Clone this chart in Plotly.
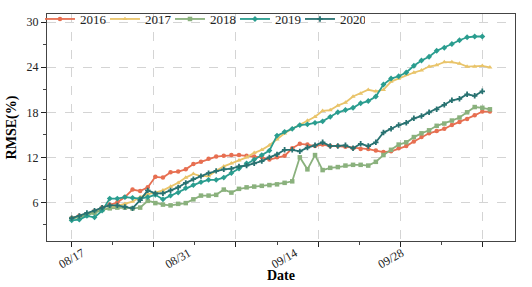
import plotly.graph_objects as go

# ---- data ----
label_days = [0, 14, 28, 42]
tick_labels = ['08/17', '08/31', '09/14', '09/28']

rmse_2016 = [3.9, 4.2, 4.4, 4.8, 5.3, 5.7, 6.0, 6.7, 7.7, 7.5,
             8.0, 9.4, 9.3, 10.0, 10.1, 10.4, 11.1, 11.4, 11.8, 12.1,
             12.2, 12.3, 12.3, 12.2, 12.1, 12.0, 11.7, 12.0, 12.2, 13.2,
             13.8, 13.7, 13.5, 13.7, 13.5, 13.5, 13.4, 13.2, 13.1, 13.1,
             12.9, 12.7, 12.8, 13.2, 13.5, 14.1, 14.7, 15.2, 15.5, 15.8,
             16.3, 16.7, 17.1, 17.6, 18.1, 18.1]
rmse_2017 = [3.9, 4.1, 4.4, 4.7, 5.0, 5.3, 5.5, 5.8, 6.1, 6.7,
             7.1, 7.3, 7.6, 8.1, 8.6, 9.3, 9.8, 9.5, 9.5, 10.2,
             10.8, 11.2, 11.6, 12.0, 12.6, 13.0, 13.6, 14.4, 15.2, 15.8,
             16.3, 16.9, 17.4, 18.2, 18.3, 18.9, 19.3, 20.1, 20.5, 21.0,
             20.8, 21.0, 22.1, 22.5, 23.0, 23.3, 23.6, 24.1, 24.3, 24.7,
             24.7, 24.5, 24.1, 24.1, 24.2, 24.0]
rmse_2018 = [3.8, 4.0, 4.3, 4.6, 5.0, 5.2, 5.3, 5.3, 5.2, 5.3,
             6.2, 5.9, 5.7, 5.6, 5.8, 5.9, 6.4, 6.9, 6.9, 7.0,
             7.7, 7.3, 7.8, 8.0, 8.1, 8.2, 8.3, 8.4, 8.6, 8.8,
             12.0, 10.4, 12.3, 10.3, 10.6, 10.7, 10.9, 11.0, 11.0, 10.9,
             11.4, 12.3, 13.0, 13.7, 14.0, 14.7, 15.2, 15.6, 16.2, 16.5,
             16.9, 17.3, 18.0, 18.7, 18.6, 18.4]
rmse_2019 = [3.6, 3.7, 4.2, 4.0, 4.9, 6.5, 6.5, 6.7, 6.6, 6.5,
             6.7, 7.0, 6.4, 6.9, 7.3, 7.9, 8.3, 8.7, 9.0, 9.0,
             9.3, 9.9, 10.5, 11.2, 11.7, 12.3, 12.9, 14.9, 15.4, 15.8,
             16.3, 16.4, 16.6, 16.8, 17.4, 18.0, 18.3, 18.6, 19.2, 19.5,
             20.1, 21.7, 22.5, 22.8, 23.3, 24.2, 24.9, 25.4, 26.2, 26.6,
             27.1, 27.6, 28.0, 28.1, 28.1]
rmse_2020 = [3.9, 4.2, 4.6, 4.9, 5.3, 5.6, 5.6, 5.4, 5.2, 6.3,
             7.6, 7.2, 7.2, 7.6, 8.0, 8.6, 9.1, 9.5, 9.9, 10.2,
             10.4, 10.5, 10.8, 10.9, 11.2, 11.5, 12.0, 12.4, 13.0, 13.0,
             12.8, 13.3, 13.6, 14.0, 13.5, 13.5, 13.6, 13.2, 13.8, 13.5,
             14.0, 15.3, 15.8, 16.3, 16.6, 17.2, 17.5, 18.0, 18.4, 19.0,
             19.6, 19.8, 20.4, 20.2, 20.8]

series_names = ['2016', '2017', '2018', '2019', '2020']
series_values = [rmse_2016, rmse_2017, rmse_2018, rmse_2019, rmse_2020]
colors = ['#e76f51', '#e9c46a', '#8ab17d', '#2a9d8f', '#287271']
symbols = ['circle', 'triangle-up', 'square', 'diamond', 'cross']

FONT = 'Liberation Serif'

fig = go.Figure()
for name, vals, col, sym in zip(series_names, series_values, colors, symbols):
    fig.add_trace(go.Scatter(
        x=list(range(len(vals))), y=vals, name=name, mode='lines+markers',
        line=dict(color=col, width=1.8),
        marker=dict(symbol=sym, size=4.5, color=col),
    ))

x_range = [-3.25, 58.3]
major = [0, 10.8, 21.6, 32.4, 43.2, 54.0]
minor = [5.4, 16.2, 27.0, 37.8, 48.6]
label_shift = 1.4

fig.update_layout(
    width=532, height=287,
    margin=dict(l=47, r=17, t=14, b=46, autoexpand=False),
    paper_bgcolor='white', plot_bgcolor='white',
    font=dict(family=FONT, size=12, color='black'),
    showlegend=True,
    legend=dict(orientation='h', x=-0.015, y=1.044, xanchor='left', yanchor='top',
                bgcolor='rgba(0,0,0,0)', font=dict(family=FONT, size=13, color='#222'),
                itemwidth=30, entrywidth=20, entrywidthmode='pixels', tracegroupgap=0),
    xaxis=dict(range=x_range, tickmode='array', tickvals=major, ticktext=[''] * len(major),
               ticks='outside', ticklen=5, tickcolor='#222', tickwidth=1,
               showgrid=True, gridcolor='#d4d4d4', griddash='dash', gridwidth=1,
               showline=True, mirror=True, linecolor='#444', linewidth=1,
               zeroline=False,
               minor=dict(tickvals=minor, ticks='outside', ticklen=3, tickcolor='#444', showgrid=False)),
    xaxis2=dict(range=x_range, overlaying='x', anchor='y', side='bottom',
                tickmode='array', tickvals=[d + label_shift for d in label_days], ticktext=tick_labels,
                tickangle=-30, ticks='', ticklen=0, ticklabelstandoff=2,
                showgrid=False, showline=False, zeroline=False,
                tickfont=dict(family=FONT, size=12, color='#222')),
    yaxis=dict(range=[0.85, 31.1], tickmode='array', tickvals=[6, 12, 18, 24, 30],
               ticks='outside', ticklen=5, tickcolor='#222',
               showgrid=True, gridcolor='#d4d4d4', griddash='dash', gridwidth=1,
               showline=True, mirror=True, linecolor='#444', linewidth=1,
               zeroline=False, tickfont=dict(family=FONT, size=12, color='#222'),
               minor=dict(tickvals=[3, 9, 15, 21, 27], ticks='outside', ticklen=3, tickcolor='#444', showgrid=False)),
    annotations=[
        dict(text='<b>Date</b>', xref='paper', yref='paper', x=0.5, y=-0.15,
             xanchor='center', yanchor='middle', showarrow=False,
             font=dict(family=FONT, size=14, color='black')),
        dict(text='<b>RMSE(%)</b>', xref='paper', yref='paper', x=-0.075, y=0.5,
             xanchor='center', yanchor='middle', textangle=-90, showarrow=False,
             font=dict(family=FONT, size=14, color='black')),
    ],
)

# invisible helper so the label axis is rendered
fig.add_trace(go.Scatter(x=[0], y=[None], xaxis='x2', showlegend=False, hoverinfo='skip'))

# remove the default 8px page margin so the 532x287 figure fills the window exactly
fig.write_html('out.html', config={'displayModeBar': False},
               post_script="document.body.style.margin='0px';document.body.style.overflow='hidden';")
